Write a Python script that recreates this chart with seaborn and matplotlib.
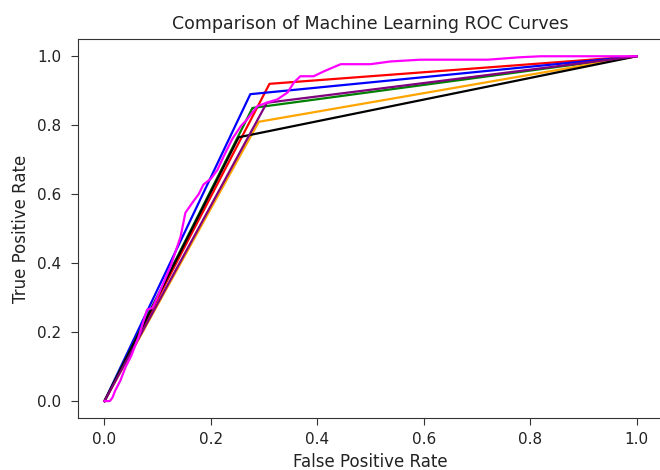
import matplotlib
matplotlib.use("Agg")
import matplotlib.pyplot as plt
import numpy as np
import pandas as pd
import seaborn as sns

# simple models: one operating point each, (0,0) -> (fpr, tpr) -> (1,1)
models = ["red", "blue", "green", "orange", "black", "purple"]
model_fpr = [0.31, 0.274, 0.278, 0.29, 0.252, 0.305]
model_tpr = [0.92, 0.89, 0.85, 0.81, 0.765, 0.865]

# probabilistic model, full curve
curve_fpr = [0, 0.01, 0.015, 0.02, 0.03, 0.04, 0.05, 0.06, 0.064, 0.075,
             0.08, 0.09, 0.099, 0.11, 0.124, 0.135, 0.143, 0.152, 0.165, 0.177,
             0.186, 0.2, 0.212, 0.224, 0.24, 0.256, 0.268, 0.287, 0.306, 0.325,
             0.344, 0.356, 0.368, 0.393, 0.412, 0.43, 0.444, 0.5, 0.538, 0.594,
             0.72, 0.78, 0.82, 1.0]
curve_tpr = [0, 0, 0.01, 0.03, 0.06, 0.1, 0.13, 0.17, 0.186, 0.24,
             0.265, 0.27, 0.30, 0.34, 0.39, 0.44, 0.477, 0.546, 0.575, 0.60,
             0.628, 0.645, 0.67, 0.71, 0.76, 0.797, 0.817, 0.855, 0.866, 0.875,
             0.895, 0.924, 0.942, 0.942, 0.956, 0.968, 0.977, 0.977, 0.985, 0.99,
             0.99, 0.997, 1.0, 1.0]


def build_frame():
    rows = []
    for name, f, t in zip(models, model_fpr, model_tpr):
        for i, (x, y) in enumerate([(0, 0), (f, t), (1, 1)]):
            rows.append({"model": name, "order": i, "fpr": x, "tpr": y})
    for i, (x, y) in enumerate(zip(curve_fpr, curve_tpr)):
        rows.append({"model": "magenta", "order": i, "fpr": x, "tpr": y})
    return pd.DataFrame(rows)


df = build_frame()
palette = {m: m for m in models + ["magenta"]}

fig = plt.figure(figsize=(6.6, 4.7), dpi=100)
# right spine sits just past the image edge, as in the reference
ax = fig.add_axes([0.118, 0.11, 0.887, 0.807])

sns.lineplot(data=df, x="fpr", y="tpr", hue="model", hue_order=models + ["magenta"],
             palette=palette, sort=False, estimator=None, units="model",
             legend=False, linewidth=1.6, ax=ax)

ax.set_xticks(np.arange(0, 1.01, 0.2))
ax.set_yticks(np.arange(0, 1.01, 0.2))
ax.set_xlim(-0.05, 1.05)
ax.set_ylim(-0.05, 1.05)
ax.tick_params(labelsize=11, length=5, pad=5, colors="#333333", labelcolor="#222222")
ax.tick_params(axis="y", pad=7)
for s in ax.spines.values():
    s.set_color("#333333")
ax.set_title("Comparison of Machine Learning ROC Curves", fontsize=12.5, color="#222222", pad=7)
ax.set_xlabel("False Positive Rate", fontsize=12, color="#222222", labelpad=4)
ax.set_ylabel("True Positive Rate", fontsize=12, color="#222222", labelpad=5)

fig.savefig("out.png", dpi=100)
